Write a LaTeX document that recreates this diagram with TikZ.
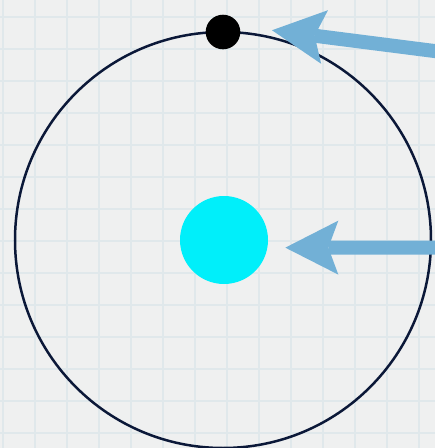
\documentclass[tikz,border=0pt]{standalone}
\usetikzlibrary{arrows.meta}

\definecolor{paper}{HTML}{EFF0F0}
\definecolor{gridblue}{HTML}{E0E8EB}
\definecolor{orbitnavy}{HTML}{0B1838}
\definecolor{arrowblue}{HTML}{72B0D6}
\definecolor{nucleuscyan}{HTML}{00EFFA}

\begin{document}
\begin{tikzpicture}[x=1pt, y=-1pt,
    gridline/.style={gridblue, line width=1.4pt},
    orbit/.style={circle, draw=orbitnavy, line width=2.5pt, minimum size=416pt, inner sep=0pt, outer sep=0pt},
    electron/.style={circle, fill=black, minimum size=34.6pt, inner sep=0pt, outer sep=0pt},
    nucleus/.style={circle, fill=nucleuscyan, minimum size=88pt, inner sep=0pt, outer sep=0pt},
    pointer/.style={draw=arrowblue, line width=14pt,
        -{Stealth[length=53pt, width=54pt, inset=10pt, line width=0pt]}}]
    \useasboundingbox (0,0) rectangle (435,448);
    \clip (0,0) rectangle (435,448);

    % graph paper
    \fill[paper] (0,0) rectangle (435,448);
    \foreach \x in {3,35,...,419}
        \draw[gridline] (\x,0) -- (\x,448);
    \foreach \y in {17,49,...,433}
        \draw[gridline] (0,\y) -- (435,\y);

    % orbit, electron and nucleus
    \node[orbit] (orbit) at (223,240) {};
    \node[electron] (electron) at (orbit.north) {};
    \node[nucleus] (nucleus) at (224,240) {};

    % pointers from the right
    \coordinate (tailA) at (450,53);
    \coordinate (tailB) at (450,247.6);
    \draw[pointer, shorten >=33pt] (tailA) -- (electron.20);
    \draw[pointer, shorten >=18pt] (tailB) -- (nucleus.-10);
\end{tikzpicture}
\end{document}
